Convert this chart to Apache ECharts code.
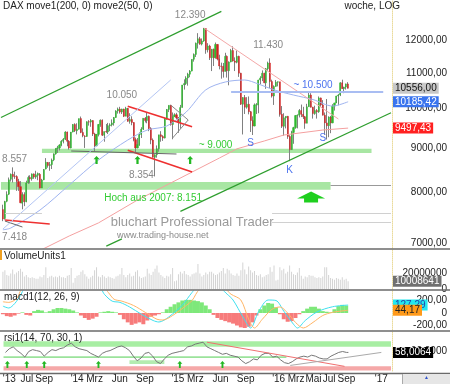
<!DOCTYPE html>
<html><head><meta charset="utf-8">
<script src="https://cdn.jsdelivr.net/npm/echarts@6/dist/echarts.min.js"></script>
<style>html,body{margin:0;padding:0;background:#fff}#c{width:450px;height:384px}</style>
</head><body><div id="c"></div><script>
// ---------- categories (weekly, Friday dates) ----------
const weekCount = 201;
const categories = [];
for (let i = 0; i < weekCount; i++) {
  categories.push(new Date(Date.UTC(2013, 3, 12) + i * 7 * 86400000).toISOString().slice(0, 10));
}
const firstCandleIndex = 1; // 2013-04-19

// ---------- weekly OHLC ----------
const opens = [
 7650,7470,7820,7970,8290,8400,8360,8350,8240,8130,7780,7960,7810,8210,8330,8300,8410,8340,8380,8400,8100,8280,8520,8670,8600,8620,8730,8870,9000,9010,9080,9170,9220,9400,9170,9010,9400,
 9590,9430,9470,9740,9390,9300,9290,9660,9650,9690,9350,9060,9340,9590,9700,9320,9410,9400,9560,9580,9630,9770,9940,9990,9910,9990,9800,10010,9670,9720,9640,9210,9010,9090,9340,9470,9750,9690,9800,9490,9200,8790,8850,8990,9330,9290,9250,9730,9980,10090,9590,9790,
 9840,9760,9650,10030,10650,10690,10850,10960,11050,11400,11550,11900,12040,11870,11970,12370,11690,11810,11450,11710,11450,11860,11410,11200,11190,11040,11490,11060,11320,11670,11350,11310,11490,10990,10120,10300,10040,10120,9920,9690,9550,10100,10105,10790,10850,10990,10710,11120,11290,10750,10340,10610,
 10730,10740,9850,9545,9760,9798,9290,8970,9390,9510,9820,9830,9950,9850,9790,9620,10050,10370,10040,9870,9950,9920,10290,10100,9830,9630,9560,9780,9630,10070,10150,10340,10370,10710,10545,10590,10680
];
const highs = [
 7750,7830,8030,8330,8420,8557,8460,8380,8300,8250,8010,8010,8260,8370,8380,8420,8420,8480,8440,8430,8300,8520,8770,8680,8680,8760,8880,9000,9060,9100,9200,9250,9420,9410,9200,9400,9600,
 9620,9620,9740,9794,9490,9320,9670,9700,9730,9700,9380,9350,9600,9720,9720,9410,9600,9630,9620,9720,9780,9960,10030,10050,10000,10000,10050,10020,9880,9800,9650,9260,9250,9390,9520,9750,9780,9890,9820,9520,9240,8860,9070,9330,9420,9320,9760,9990,10090,10100,9900,9880,
 9890,9780,10100,10650,10810,10900,11000,11080,11400,11580,11920,12220,12100,12050,12390,12380,11900,11850,11720,11730,11920,11870,11540,11300,11290,11600,11520,11340,11720,11800,11460,11670,11510,11000,10310,10370,10310,10330,9940,9800,10140,10150,10800,10900,11070,11000,11140,11330,11430,10800,10640,10790,
 10750,10740,10070,9880,9800,9810,9320,9430,9530,9830,9850,9990,10110,10050,9810,10130,10474,10420,10050,10080,9990,10330,10300,10230,9900,10260,9800,9810,10120,10160,10350,10400,10730,10800,10600,10690,10730
];
const lows = [
 7418,7450,7800,7950,8240,8220,8300,8040,8040,7780,7655,7720,7800,8190,8200,8260,8300,8300,8270,8090,8100,8270,8510,8550,8480,8520,8700,8850,8890,8950,9050,9120,9200,9050,8970,9000,9390,
 9400,9340,9460,9370,9270,9010,9280,9560,9530,9300,8930,9050,9290,9530,9300,9160,9380,9350,9420,9540,9560,9760,9870,9870,9860,9780,9800,9660,9610,9570,9170,8903,9000,9060,9250,9450,9640,9620,9420,9100,8780,8354,8780,8920,9160,9180,9240,9710,9910,9560,9220,9780,
 9720,9380,9480,10030,10520,10650,10630,10870,11040,11330,11470,11730,11850,11830,11940,11570,11610,11380,11050,11200,11420,11370,11100,10830,10860,11040,10860,10640,11310,11330,11050,11280,10880,10100,9338,9860,10000,9850,9400,9325,9540,9860,9880,10670,10760,10700,10540,11060,10560,10300,10100,10600,
 10610,9790,9500,9310,9490,9230,8699,8960,9110,9480,9490,9770,9780,9730,9480,9620,10050,10030,9740,9840,9740,9890,10050,9820,9330,9214,9270,9370,9620,9950,10150,10090,10340,10540,10420,10520,10550
];
const closes = [
 7460,7815,7960,8280,8400,8350,8350,8250,8130,7790,7960,7810,8210,8330,8300,8410,8340,8390,8420,8100,8275,8510,8675,8600,8620,8725,8870,9000,9010,9080,9170,9220,9400,9170,9010,9400,9590,
 9435,9470,9740,9390,9310,9290,9660,9650,9690,9350,9060,9340,9590,9700,9320,9410,9400,9560,9580,9630,9770,9940,9990,9910,9990,9800,10010,9670,9720,9640,9210,9010,9090,9340,9470,9750,9690,9800,9490,9200,8790,8850,8990,9330,9290,9250,9730,9980,10090,9590,9790,9840,
 9760,9650,10030,10650,10690,10850,10960,11050,11400,11550,11900,12040,11870,11970,12375,11690,11810,11450,11710,11450,11860,11410,11200,11190,11040,11490,11060,11320,11670,11350,11310,11490,10990,10120,10300,10040,10120,9920,9690,9550,10100,10105,10790,10850,10990,10710,11120,11290,10750,10340,10610,10730,
 10740,9850,9545,9760,9798,9290,8970,9390,9510,9820,9830,9950,9850,9790,9620,10050,10370,10040,9870,9950,9920,10290,10100,9830,9630,9560,9780,9630,10070,10150,10340,10370,10710,10545,10590,10680,10556
];

// ---------- weekly volume (millions of units) ----------
const volumeMillions = [
 22,24,18,17,20,25,19,21,23,26,22,16,18,15,14,15,14,13,13,16,15,18,28,14,16,17,15,16,15,17,15,15,14,17,18,27,8,
 14,17,18,22,24,19,16,13,15,17,24,28,16,15,18,16,14,16,15,14,13,16,17,19,27,18,15,18,20,16,17,22,24,16,14,15,16,26,20,18,22,26,30,21,18,16,14,17,16,19,27,10,
 11,19,22,20,23,19,18,16,19,20,21,32,20,16,18,21,19,22,22,20,18,19,21,23,27,20,26,24,20,18,17,20,17,24,34,25,19,29,24,21,23,18,17,19,15,16,18,19,28,22,30,11,
 12,28,24,26,20,22,30,22,19,18,21,27,17,13,16,15,18,17,17,15,14,15,14,16,28,28,18,14,13,12,14,13,12,15,12,13,10.008641
];

// ---------- moving averages [week index, value] ----------
const sma200 = [[21,6880],[35,7132],[50,7384],[70,7846],[100,8497],[112,8772],[121,8989],[135,9178],[145,9324],[165,9449],[178,9497.43]];
const sma50 = [[1,7250],[5,7284],[20,7640],[35,8165],[50,8726],[65,9201],[75,9449],[85,9550],[95,9912],[105,10512],[115,10734],[125,10791],[132,10677],[140,10512],[150,10369],[160,10245],[170,10070],[178,10185.42]];

// ---------- MACD [week index, value] ----------
const macdLine = [[1,110],[4,80],[7,150],[10,280],[13,420],[50,430],[53,300],[57,190],[61,170],[66,96],[72,-20],[78,-120],[81,-144],[86,-64],[93,128],[98,330],[102,460],[110,450],[116,300],[119,208],[124,-60],[128,-240],[132,16],[137,208],[141,200],[145,30],[150,-180],[152,-240],[156,-120],[162,16],[170,100],[178,127.29]];
const signalLine = [[1,180],[4,170],[8,230],[12,420],[52,430],[55,330],[58,220],[62,190],[68,120],[74,10],[80,-100],[83,-112],[88,-40],[95,120],[98,200],[102,380],[112,450],[118,300],[123,208],[127,-100],[130,-240],[134,-100],[139,60],[143,96],[147,0],[151,-150],[155,-240],[160,-150],[165,-40],[170,10],[178,44.17]];
const macdHist = [[1,-20],[3,-50],[5,-60],[7,-40],[9,-10],[11,10],[13,-30],[15,-40],[17,30],[19,50],[21,40],[23,10],[25,30],[27,60],[29,80],[31,80],[33,70],[35,60],[37,40],[39,10],[41,-40],[43,-80],[45,-110],[47,-90],[49,-60],[51,10],[53,20],[55,30],[57,20],[59,10],[61,-30],[63,-100],[65,-150],[67,-190],[69,-170],[71,-150],[73,-180],[75,-120],[77,-60],[79,-40],[81,-20],[83,10],[85,60],[87,100],[89,140],[91,170],[93,200],[95,210],[97,210],[99,200],[101,190],[103,170],[105,120],[107,60],[109,-30],[111,-80],[113,-110],[115,-130],[117,-150],[119,-170],[121,-200],[123,-230],[125,-240],[127,-220],[129,-150],[131,-40],[133,60],[135,120],[137,160],[139,150],[141,90],[143,-20],[145,-100],[147,-140],[149,-130],[151,-80],[153,-20],[155,30],[157,70],[159,100],[161,100],[163,70],[165,30],[167,20],[169,10],[171,60],[173,110],[175,130],[177,120]];

// ---------- RSI [week index, value] ----------
const rsiValues = [[1,58],[3,66],[5,70],[7,62],[9,56],[11,48],[13,60],[15,64],[17,62],[19,60],[21,50],[23,58],[25,64],[27,62],[29,66],[31,68],[33,74],[35,78],[37,70],[39,66],[41,64],[43,62],[45,56],[47,52],[49,48],[51,56],[53,60],[55,62],[57,66],[59,70],[61,72],[63,68],[65,62],[67,50],[69,40],[71,46],[73,56],[75,58],[77,50],[79,38],[81,34],[83,44],[85,52],[87,56],[89,58],[91,60],[93,62],[95,70],[97,72],[99,76],[101,78],[103,80],[105,70],[107,66],[109,62],[111,58],[113,54],[115,56],[117,52],[119,50],[121,48],[123,40],[125,34],[127,38],[129,44],[131,42],[133,52],[135,56],[137,56],[139,48],[141,50],[143,42],[145,36],[147,34],[149,38],[151,44],[153,48],[155,50],[157,48],[159,52],[161,50],[163,46],[165,44],[167,44],[169,50],[171,54],[173,58],[175,60],[177,58],[178,58.0064]];

// ---------- tick labels ----------
const priceTicks = [7000, 8000, 9000, 10000, 11000, 12000];
const volumeTicks = [0, 20000000];
const macdTicks = [-200, 0, 200];
const rsiTicks = [40, 60];
const xTickLabels = [["2013-05-03","'13"],["2013-07-05","Jul"],["2013-09-06","Sep"],["2014-01-03","'14"],["2014-03-07","Mrz"],["2014-06-06","Jun"],["2014-09-05","Sep"],["2015-01-02","'15"],["2015-03-06","Mrz"],["2015-06-05","Jun"],["2015-09-04","Sep"],["2016-01-01","'16"],["2016-03-04","Mrz"],["2016-05-06","Mai"],["2016-07-01","Jul"],["2016-09-02","Sep"],["2017-01-06","'17"]];

// ---------- chart annotations (data coordinates: week index, value) ----------
const mainLines = [
 [[0,9768],[113,12947],'#2e9e2e',1.2],
 [[54,6942],[62,7078],'#2e9e2e',1.2],
 [[92,7613],[200,9894],'#2e9e2e',1.2],
 [[104,12390],[173,9730],'#f4a8a8',1],
 [[65,10063],[98,9533],'#ee3030',1.6],
 [[65,8956],[98,8453],'#ee3030',1.6],
 [[36,8937],[90,8866],'#666666',1],
 [[2,7440],[25,7362],'#ee3030',1.6],
 [[2,7421],[11,7304],'#666666',1],
 [[1,7265],[87,10791],'#b4c6f4',1],
 [[118,10460],[196,10460],'#a9bdf2',2],
 [[87,10098],[96,9704],'#888888',1],
 [[88,9251],[96,9704],'#888888',1],
 [[169,8151],[200,8151],'#999999',1],
 [[2,7581],[21,7581],'#d0d0d0',1],
 [[139,7581],[200,7581],'#d0d0d0',1],
 [[139,7401],[200,7401],'#d0d0d0',1]
];
const mainBands = [
 [[21,8990],[190,8890],'#a8e6a3'],
 [[0,8231],[169,8063],'#a8e6a3']
];
const mainTexts = [
 ['12.390',97,12823,'#888888',10],
 ['11.430',137,11842,'#888888',10],
 ['10.050',62,10369,'#888888',10],
 ['8.557',7,8749,'#888888',10],
 ['7.418',7,7112,'#888888',10],
 ['8.354',72,8386,'#888888',10],
 ['~ 9.000',110,9080,'#33cc33',10],
 ['~ 10.500',160,10649,'#4d74ee',10],
 ['S',128,9128,'#4d74ee',10],
 ['S',165,9251,'#4d74ee',10],
 ['K',148,8497,'#4d74ee',10],
 ['Hoch aus 2007: 8.151',78,7889,'#33cc33',10],
 ['bluchart Professional Trader',98,7384,'#9a9a9a',13],
 ['www.trading-house.net',83,7132,'#8a8a8a',9]
];
const mainSmallArrows = [[49,8726],[70,8726],[97,8726]];
const mainBigArrow = [159,7909];
const rsiBands = [
 [[0,82],[200,70],'#a8eea3'],
 [[0,28],[200,19],'#f5a8a8'],
 [[0,50],[146,46],'#9be39b'],
 [[65,41],[83,33],'#b4ecb0']
];
const rsiLines = [
 [[105,80],[176,28],'#f07070',1],
 [[148,30],[195,58],'#aaaaaa',1]
];
const rsiArrows = [[2,32],[12,32],[21,32],[49,32],[91,32],[113,32]];

// ---------- build ----------
const FONT = 'Liberation Sans, Arial, sans-serif';
const lastK = closes.length - 1;
const padded = (fn) => categories.map((c, i) => { const k = i - firstCandleIndex; return (k >= 0 && k <= lastK) ? fn(k) : '-'; });
const wickData = padded(k => [opens[k], closes[k], lows[k], highs[k]]);
const bodyData = padded(k => [opens[k], closes[k], Math.min(opens[k], closes[k]), Math.max(opens[k], closes[k])]);
const volData = padded(k => volumeMillions[k] * 1e6);
const labelMap = {}; xTickLabels.forEach(([d, t]) => labelMap[d] = t);

const comma = (v, n) => Number(v).toFixed(n).replace('.', ',');
const badge = (value, text, bg, fg) => ({
  yAxis: value,
  lineStyle: { color: 'rgba(0,0,0,0)', width: 0 },
  label: { show: true, position: 'end', distance: 1, formatter: text, backgroundColor: bg, color: fg,
           fontSize: 10, fontFamily: FONT, padding: [1, 2, 0, 2] }
});
const lineItems = list => list.map(([a, b, color, w]) => [{ coord: a, lineStyle: { color, width: w, type: 'solid' } }, { coord: b }]);
const bandItems = list => list.map(([a, b, color]) => [{ coord: a, itemStyle: { color } }, { coord: b }]);
const arrowPath = 'path://M4 0 L8 4 L5.5 4 L5.5 10 L2.5 10 L2.5 4 L0 4 Z';

const grids = [
  { left: 0, right: 48, top: 0, height: 248 },
  { left: 0, right: 48, top: 250, height: 39 },
  { left: 0, right: 48, top: 291, height: 39 },
  { left: 0, right: 48, top: 332, height: 41 }
];
const xAxes = grids.map((g, i) => ({
  type: 'category', gridIndex: i, data: categories, boundaryGap: true,
  axisLine: { show: false }, axisTick: { show: false }, splitLine: { show: false },
  axisLabel: i === 3 ? {
    show: true, interval: (idx, val) => labelMap[val] !== undefined, formatter: v => labelMap[v] || '',
    color: '#222', fontSize: 10, fontFamily: FONT, margin: 3
  } : { show: false }
}));
const yCommon = (extra) => Object.assign({
  position: 'right', splitLine: { show: false }, axisTick: { show: false },
  axisLine: { show: true, lineStyle: { color: '#eadb9c', type: 'dotted', width: 1 } }
}, extra);
const axisLab = (vals, fmt) => ({ customValues: vals, formatter: fmt, align: 'right', margin: 55, color: '#222', fontSize: 10, fontFamily: FONT });
const yAxes = [
  yCommon({ type: 'log', gridIndex: 0, min: 6908, max: 13345, axisLabel: axisLab(priceTicks, v => comma(Math.round(v), 2)) }),
  yCommon({ type: 'value', gridIndex: 1, min: 0, max: 50000000, axisLabel: axisLab(volumeTicks, v => String(Math.round(v))) }),
  yCommon({ type: 'value', gridIndex: 2, min: -272, max: 352, axisLabel: axisLab(macdTicks, v => v === 0 ? '0' : comma(v, 2)) }),
  yCommon({ type: 'value', gridIndex: 3, min: 18, max: 102, axisLabel: axisLab(rsiTicks, v => comma(v, 4)) })
];

const series = [
  { type: 'line', xAxisIndex: 0, yAxisIndex: 0, data: [], z: 1, silent: true,
    markArea: { silent: true, data: bandItems(mainBands) } },
  { type: 'candlestick', xAxisIndex: 0, yAxisIndex: 0, data: wickData, barWidth: 1, z: 2,
    itemStyle: { color: '#808080', color0: '#808080', borderColor: '#808080', borderColor0: '#808080', borderWidth: 1 } },
  { type: 'candlestick', xAxisIndex: 0, yAxisIndex: 0, data: bodyData, barWidth: 1.6, z: 3,
    itemStyle: { color: '#2eb82e', color0: '#d42020', borderColor: '#2eb82e', borderColor0: '#d42020', borderWidth: 0.4 },
    markLine: { silent: true, symbol: ['none', 'none'], data: [badge(closes[lastK], comma(closes[lastK], 2), '#c8c8c8', '#111')] } },
  { type: 'line', xAxisIndex: 0, yAxisIndex: 0, data: sma200, showSymbol: false, z: 4,
    lineStyle: { color: '#f4a0a0', width: 1 },
    markLine: { silent: true, symbol: ['none', 'none'], data: [badge(sma200[sma200.length - 1][1], comma(sma200[sma200.length - 1][1], 2), '#ff2020', '#fff')] } },
  { type: 'line', xAxisIndex: 0, yAxisIndex: 0, data: sma50, showSymbol: false, smooth: 0.3, z: 4,
    lineStyle: { color: '#9fb4f0', width: 1 },
    markLine: { silent: true, symbol: ['none', 'none'], data: [badge(sma50[sma50.length - 1][1], comma(sma50[sma50.length - 1][1], 2), '#3a74ee', '#fff')] } },
  { type: 'line', xAxisIndex: 0, yAxisIndex: 0, data: [], z: 5, silent: true,
    markLine: { silent: true, symbol: ['none', 'none'], label: { show: false }, data: lineItems(mainLines) },
    markPoint: { silent: true, data: [
      ...mainTexts.map(([t, x, y, color, fs]) => ({ coord: [x, y], symbol: 'circle', symbolSize: 0,
        label: { show: true, position: 'inside', formatter: t, color, fontSize: fs, fontFamily: FONT } })),
      ...mainSmallArrows.map(c => ({ coord: c, symbol: arrowPath, symbolSize: [6, 8], itemStyle: { color: '#22b822' }, label: { show: false } })),
      { coord: mainBigArrow, symbol: 'path://M14 0 L28 7 L21 7 L21 11 L7 11 L7 7 L0 7 Z', symbolSize: [28, 11], itemStyle: { color: '#1fcf1f' }, label: { show: false } }
    ] } },
  // volume
  { type: 'bar', xAxisIndex: 1, yAxisIndex: 1, data: volData, barWidth: 1, itemStyle: { color: '#d4d4d4' },
    markLine: { silent: true, symbol: ['none', 'none'], data: [badge(volumeMillions[lastK] * 1e6, String(Math.round(volumeMillions[lastK] * 1e6)), '#707070', '#fff')] } },
  // macd
  { type: 'bar', xAxisIndex: 2, yAxisIndex: 2, data: macdHist, barWidth: 4,
    itemStyle: { color: p => p.value[1] >= 0 ? '#7ee87a' : '#f77b7b' } },
  { type: 'line', xAxisIndex: 2, yAxisIndex: 2, data: macdLine, showSymbol: false, smooth: 0.3, lineStyle: { color: '#3fe0ee', width: 1 },
    markLine: { silent: true, symbol: ['none', 'none'], data: [badge(macdLine[macdLine.length - 1][1], comma(macdLine[macdLine.length - 1][1], 2), '#22e8f0', '#2244aa')] } },
  { type: 'line', xAxisIndex: 2, yAxisIndex: 2, data: signalLine, showSymbol: false, smooth: 0.3, lineStyle: { color: '#ffb566', width: 1 },
    markLine: { silent: true, symbol: ['none', 'none'], data: [badge(signalLine[signalLine.length - 1][1], comma(signalLine[signalLine.length - 1][1], 2), '#ff9a1a', '#222')] } },
  // rsi
  { type: 'line', xAxisIndex: 3, yAxisIndex: 3, data: rsiValues, showSymbol: false, z: 3, lineStyle: { color: '#777', width: 1 },
    markArea: { silent: true, data: bandItems(rsiBands) },
    markLine: { silent: true, symbol: ['none', 'none'], data: [
      ...lineItems(rsiLines).map(l => { l[0].label = { show: false }; return l; }),
      badge(rsiValues[rsiValues.length - 1][1], comma(rsiValues[rsiValues.length - 1][1], 4), '#000', '#fff')
    ] },
    markPoint: { silent: true, data: rsiArrows.map(c => ({ coord: c, symbol: arrowPath, symbolSize: [5, 7], itemStyle: { color: '#22b822' }, label: { show: false } })) } }
];

const textStyle = (t, size) => ({ text: t, fontSize: size || 10, fill: '#222', fontFamily: FONT });
const sep = y => ({ type: 'line', shape: { x1: 0, y1: y, x2: 450, y2: y }, style: { stroke: '#6a6a6a', lineWidth: 1.5 }, z: 100 });
const graphic = [
  { type: 'text', left: 3, top: 1, style: textStyle('DAX move1(200, 0) move2(50, 0)'), z: 100 },
  { type: 'text', right: 50, top: 1, style: textStyle('woche, LOG'), z: 100 },
  { type: 'rect', shape: { x: 0, y: 250, width: 2, height: 10 }, style: { fill: '#f0a020' }, z: 100 },
  { type: 'text', left: 4, top: 251, style: textStyle('VolumeUnits1'), z: 100 },
  { type: 'text', left: 4, top: 292, style: textStyle('macd1(12, 26, 9)'), z: 100 },
  { type: 'text', left: 4, top: 333, style: textStyle('rsi1(14, 70, 30, 1)'), z: 100 },
  sep(249), sep(290), sep(331), sep(373.5),
  { type: 'rect', shape: { x: 403, y: 374, width: 47, height: 10 }, style: { fill: '#e6e6e6' }, z: 100 },
  { type: 'line', shape: { x1: 402.5, y1: 374, x2: 402.5, y2: 384 }, style: { stroke: '#aaa', lineWidth: 1 }, z: 100 },
  { type: 'text', left: 424, top: 375, style: { text: '▲', fontSize: 5, fill: '#3355cc' }, z: 101 }
];

const chart = echarts.init(document.getElementById('c'), null, { renderer: 'canvas' });
chart.setOption({
  animation: false, backgroundColor: '#fff',
  textStyle: { fontFamily: FONT },
  grid: grids, xAxis: xAxes, yAxis: yAxes, series, graphic
});
</script></body></html>
